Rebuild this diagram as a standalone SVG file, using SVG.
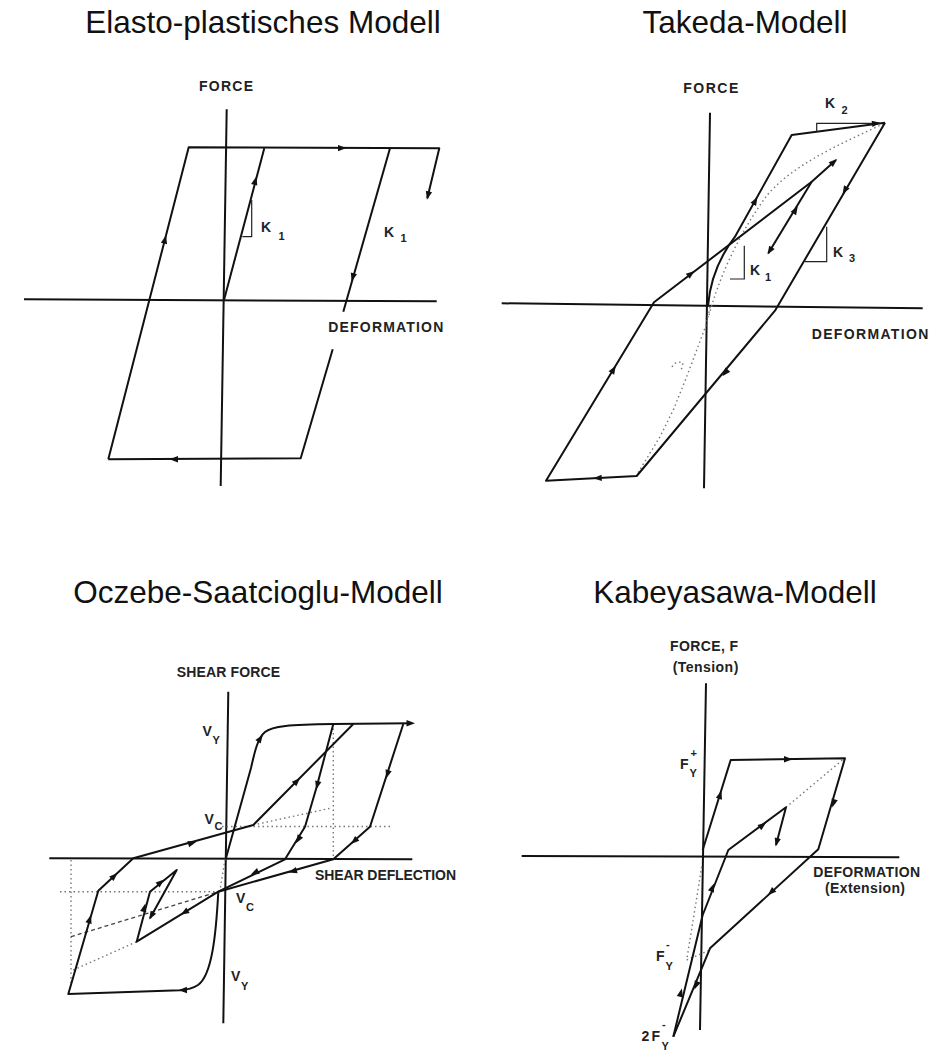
<svg xmlns="http://www.w3.org/2000/svg" xmlns:xlink="http://www.w3.org/1999/xlink" width="946" height="1052" viewBox="0 0 946 1052">
<style>
.title{font-family:"Liberation Sans",Arial,sans-serif;font-size:31.5px;fill:#111;text-anchor:middle}
.lab{font-family:"Liberation Sans",Arial,sans-serif;font-size:14px;font-weight:bold;fill:#222}
.sub{font-family:"Liberation Sans",Arial,sans-serif;font-size:11px;font-weight:bold;fill:#222}
.ax{fill:none;stroke:#111;stroke-width:2}
.cv{fill:none;stroke:#111;stroke-width:2;stroke-linejoin:round}
.thin{fill:none;stroke:#222;stroke-width:1.2}
.dot{fill:none;stroke:#777;stroke-width:1.4;stroke-dasharray:1.5 3}
.dash{fill:none;stroke:#444;stroke-width:1.3;stroke-dasharray:4 3}
</style>
<defs>
<path id="ah" d="M1.5,0 L-7,-3.2 L-7,3.2 Z" fill="#111"/>
</defs>
<rect width="946" height="1052" fill="#fff"/>

<g id="titles">
<text class="title" x="263" y="33">Elasto-plastisches Modell</text>
<text class="title" x="745" y="33">Takeda-Modell</text>
<text class="title" x="258" y="603">Oczebe-Saatcioglu-Modell</text>
<text class="title" x="735" y="603">Kabeyasawa-Modell</text>
</g>

<!-- Panel 1: Elasto-plastic -->
<g id="panel-elasto">
<line class="ax" x1="226.7" y1="109.3" x2="220.7" y2="486"/>
<line class="ax" x1="24" y1="299.3" x2="436.7" y2="301.3"/>
<text class="lab" x="199" y="90.7" textLength="54" lengthAdjust="spacing">FORCE</text>
<text class="lab" x="328.3" y="331.7" textLength="115" lengthAdjust="spacing">DEFORMATION</text>
<g id="p1-curves">
<path class="cv" d="M108.3,459.3 L188.7,147.3 L439.3,148.3 L427.3,198.3"/>
<path class="cv" d="M224,300 L264.3,148.3"/>
<path class="cv" d="M390,148.3 L343.3,311.7"/>
<path class="cv" d="M332.7,349.3 L300.7,458.3 L108.3,459.3"/>
<path class="thin" d="M251.7,200 V236.7 H242.3"/>
</g>
<g id="p1-arrows">
<use xlink:href="#ah" transform="translate(345,148.1) rotate(0)"/>
<use xlink:href="#ah" transform="translate(427.3,198.3) rotate(103.5)"/>
<use xlink:href="#ah" transform="translate(165.7,236.7) rotate(-75.5)"/>
<use xlink:href="#ah" transform="translate(171,459.3) rotate(180)"/>
<use xlink:href="#ah" transform="translate(256,178) rotate(-75.1)"/>
<use xlink:href="#ah" transform="translate(352,280) rotate(105.9)"/>
</g>
<text class="lab" x="261" y="231.7">K</text><text class="sub" x="278.5" y="240">1</text>
<text class="lab" x="384" y="236.7">K</text><text class="sub" x="400.5" y="242">1</text>
</g>

<!-- Panel 2: Takeda -->
<g id="panel-takeda">
<line class="ax" x1="710" y1="112.7" x2="704" y2="488.3"/>
<line class="ax" x1="501.7" y1="303.3" x2="922.7" y2="308.3"/>
<text class="lab" x="683.3" y="93.3" textLength="55" lengthAdjust="spacing">FORCE</text>
<text class="lab" x="811.7" y="339.3" textLength="116.6" lengthAdjust="spacing">DEFORMATION</text>
<g id="p2-dotted">
<path class="dot" d="M709,315 C718,282 735,240 765,198 C790,165 845,142 885,123"/>
<path class="dot" d="M710,307 L706.7,323.3 L696.7,350 L686.7,376.7 L673.3,410 L660,436.7 L636.7,475"/>
<path class="dot" d="M672,367 Q676,360 683,363 L681,371"/>
</g>
<g id="p2-curves">
<path class="cv" d="M708,306 Q711,268 735,236.7 L791.7,135 L885,122.7"/>
<path class="cv" d="M885,122.7 L775,310.7 L636.7,476 L546,480.7 L654,302.3 L811.7,181.7 L836,160"/>
<path class="cv" d="M811.7,181.7 L768.3,253.3"/>
<path class="thin" d="M816.7,131.7 V123.3 H873"/>
<path class="thin" d="M744.3,245.7 V279 H730"/>
<path class="thin" d="M826.7,226.7 V261.7 H805"/>
</g>
<g id="p2-arrows">
<use xlink:href="#ah" transform="translate(879,122.9) rotate(-7.5)"/>
<use xlink:href="#ah" transform="translate(756.7,198.3) rotate(-60.9)"/>
<use xlink:href="#ah" transform="translate(843.3,193) rotate(120.3)"/>
<use xlink:href="#ah" transform="translate(723.3,375) rotate(129.9)"/>
<use xlink:href="#ah" transform="translate(594.7,478.2) rotate(177)"/>
<use xlink:href="#ah" transform="translate(615,367) rotate(-58.8)"/>
<use xlink:href="#ah" transform="translate(693.3,272) rotate(-37.4)"/>
<use xlink:href="#ah" transform="translate(836,160) rotate(-41.8)"/>
<use xlink:href="#ah" transform="translate(768.3,253.3) rotate(121.2)"/>
<use xlink:href="#ah" transform="translate(797,207.5) rotate(-58.8)"/>
</g>
<text class="lab" x="750" y="275">K</text><text class="sub" x="765" y="281">1</text>
<text class="lab" x="833" y="256.7">K</text><text class="sub" x="849" y="262">3</text>
<text class="lab" x="825" y="108.3">K</text><text class="sub" x="841.5" y="113.5">2</text>
</g>

<!-- Panel 3: Oczebe-Saatcioglu -->
<g id="panel-oczebe">
<line class="ax" x1="228.3" y1="691.7" x2="223.3" y2="1023.3"/>
<line class="ax" x1="49.3" y1="858.3" x2="412.3" y2="859.3"/>
<text class="lab" x="176.7" y="676.7" textLength="103.3" lengthAdjust="spacing">SHEAR FORCE</text>
<text class="lab" x="315" y="880" textLength="141" lengthAdjust="spacing">SHEAR DEFLECTION</text>
<g id="p3-dotted">
<path class="dot" d="M222,826.5 H390"/>
<path class="dot" d="M253.3,825 L330,808.3"/>
<path class="dot" d="M333.3,724 V859"/>
<path class="dot" d="M60,891.7 H218"/>
<path class="dot" d="M71,860 V983"/>
<path class="dash" d="M71,936.7 L218.3,891.7"/>
<path class="dot" d="M73.3,970 L136.7,941.7"/>
<path class="dot" d="M225,859.3 L220,890"/>
</g>
<g id="p3-curves">
<path class="cv" d="M226,858 L251,768 C255,750 258,738 265,732 C272,726 290,724.5 333.3,724 L411,723.3"/>
<path class="cv" d="M333.3,724 L316.7,786.7 L305,826.7 L285,859.3 L218.3,891.7"/>
<path class="cv" d="M353.3,724 L253.3,825 L133.3,858.3 L98.3,890.7 L68.3,994 L180,990.3 C185,990 192,989 198,985 C212,975 216,935 218.3,891.7"/>
<path class="cv" d="M403.3,724 L370,826.7 L333.3,859.3 L218.3,891.7 L136.7,941.7 L150,891.7 L176.7,870 L150,918.3"/>
</g>
<g id="p3-arrows">
<use xlink:href="#ah" transform="translate(413.5,723.3) rotate(0)"/>
<use xlink:href="#ah" transform="translate(262,736) rotate(-55)"/>
<use xlink:href="#ah" transform="translate(316.5,788) rotate(104.8)"/>
<use xlink:href="#ah" transform="translate(296.7,842) rotate(121.5)"/>
<use xlink:href="#ah" transform="translate(252,874) rotate(154.7)"/>
<use xlink:href="#ah" transform="translate(299,779) rotate(-45.3)"/>
<use xlink:href="#ah" transform="translate(195,842.2) rotate(-15.5)"/>
<use xlink:href="#ah" transform="translate(90.5,916.5) rotate(-73.8)"/>
<use xlink:href="#ah" transform="translate(116.5,874) rotate(-42.8)"/>
<use xlink:href="#ah" transform="translate(180,990.3) rotate(178)"/>
<use xlink:href="#ah" transform="translate(386.5,777) rotate(108)"/>
<use xlink:href="#ah" transform="translate(352,843) rotate(138.4)"/>
<use xlink:href="#ah" transform="translate(290,872) rotate(164.3)"/>
<use xlink:href="#ah" transform="translate(182,914) rotate(148.5)"/>
<use xlink:href="#ah" transform="translate(145,905) rotate(-75)"/>
<use xlink:href="#ah" transform="translate(163,880.5) rotate(-39)"/>
<use xlink:href="#ah" transform="translate(150,918.3) rotate(118.9)"/>
</g>
<text class="lab" x="202.5" y="736">V</text><text class="sub" x="212.5" y="744">Y</text>
<text class="lab" x="204.5" y="824">V</text><text class="sub" x="214.5" y="830">C</text>
<text class="lab" x="236" y="902.5">V</text><text class="sub" x="246" y="911">C</text>
<text class="lab" x="231" y="981">V</text><text class="sub" x="241" y="989.5">Y</text>
</g>

<!-- Panel 4: Kabeyasawa -->
<g id="panel-kabeyasawa">
<line class="ax" x1="706" y1="683.3" x2="700" y2="1030"/>
<line class="ax" x1="521.7" y1="856" x2="899.3" y2="857.3"/>
<text class="lab" x="670" y="650.7" textLength="68" lengthAdjust="spacing">FORCE, F</text>
<text class="lab" x="672.7" y="671.5" textLength="65.6" lengthAdjust="spacing">(Tension)</text>
<text class="lab" x="813.3" y="876.7" textLength="106.7" lengthAdjust="spacing">DEFORMATION</text>
<text class="lab" x="825" y="893" textLength="80" lengthAdjust="spacing">(Extension)</text>
<g id="p4-dotted">
<path class="dot" d="M786,807.3 L843.3,759.3"/>
<path class="dot" d="M701.7,866.7 L686.7,960"/>
<path class="dot" d="M686.7,960 L710,950"/>
</g>
<g id="p4-curves">
<path class="cv" d="M702.7,850 L730.7,760 L845,758.3 L818.3,849.3 L710,948.3 L673.3,1036.7"/>
<path class="cv" d="M673.3,1036.7 L702.7,915 L726,856 L728.3,850 L786,807.3 L776,845"/>
</g>
<g id="p4-arrows">
<use xlink:href="#ah" transform="translate(721,792) rotate(-72.7)"/>
<use xlink:href="#ah" transform="translate(791,759.2) rotate(0)"/>
<use xlink:href="#ah" transform="translate(832.7,806) rotate(106.4)"/>
<use xlink:href="#ah" transform="translate(769,894) rotate(137.6)"/>
<use xlink:href="#ah" transform="translate(695,988) rotate(112.5)"/>
<use xlink:href="#ah" transform="translate(681.5,990) rotate(-76.4)"/>
<use xlink:href="#ah" transform="translate(713.5,885) rotate(-68.5)"/>
<use xlink:href="#ah" transform="translate(765,823.5) rotate(-36.5)"/>
<use xlink:href="#ah" transform="translate(776,845) rotate(104.9)"/>
</g>
<text class="lab" x="680" y="769">F</text><text class="sub" x="690.5" y="757">+</text><text class="sub" x="689.5" y="777">Y</text>
<text class="lab" x="656" y="961">F</text><text class="sub" x="666" y="948">-</text><text class="sub" x="665.5" y="969.5">Y</text>
<text class="lab" x="641.5" y="1041">2</text><text class="lab" x="651.5" y="1041">F</text><text class="sub" x="662" y="1028">-</text><text class="sub" x="661.5" y="1050">Y</text>
</g>
</svg>
